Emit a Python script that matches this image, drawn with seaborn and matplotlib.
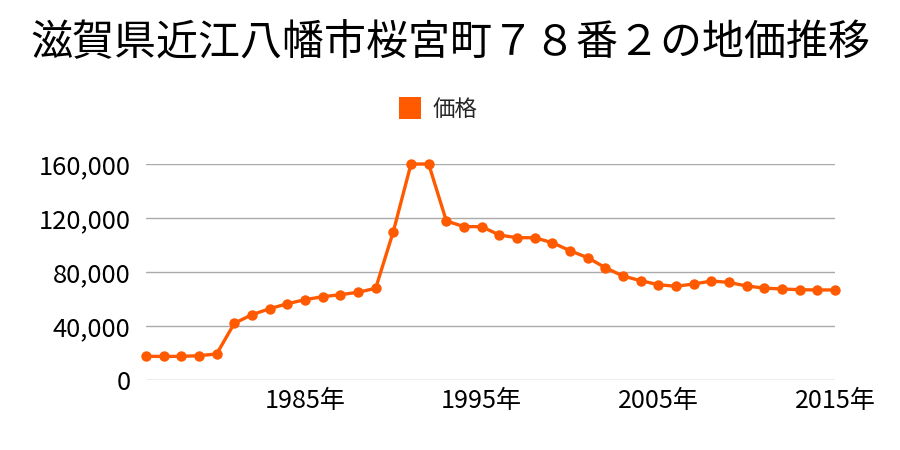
import matplotlib
matplotlib.use("Agg")
import matplotlib.pyplot as plt
import seaborn as sns
import pandas as pd
from matplotlib.ticker import FuncFormatter
from matplotlib.lines import Line2D

years = list(range(1976, 2016))
prices = [17500, 17500, 17500, 18000, 19300, 42000, 48400, 52800, 56500, 59500,
          61700, 63200, 65000, 67900, 110000, 160000, 160000, 117800, 113600, 113600,
          107400, 105400, 105400, 101700, 95800, 90600, 83200, 77000, 73600, 70600,
          69400, 71100, 73300, 72300, 69600, 68100, 67400, 66900, 66700, 66700]
title = "滋賀県近江八幡市桜宮町７８番２の地価推移"
series_name = "価格"
xtick_years = [1985, 1995, 2005, 2015]
yticks = [0, 40000, 80000, 120000, 160000]

sns.set_theme(style="white")
plt.rcParams['font.family'] = ['Noto Sans CJK JP', 'DejaVu Sans']

color = "#FF5A00"
df = pd.DataFrame({"year": years, "price": prices})

fig = plt.figure(figsize=(9, 4.5), dpi=100)
renderer = fig.canvas.get_renderer()


def fit_size(text, target_px, ref=10.0):
    t = fig.text(0, 0, text, fontsize=ref)
    w = t.get_window_extent(renderer=renderer).width
    t.remove()
    return ref * target_px / w


tick_fs = fit_size("160,000", 93)
xtick_fs = fit_size("2015年", 81)
title_fs = fit_size(title, 839)
legend_fs = fit_size(series_name, 45)

ax = fig.add_axes([146/900, 1-380/450, (835-146)/900, (380-164)/450])
sns.lineplot(data=df, x="year", y="price", ax=ax, color=color, linewidth=2.4,
             marker="o", markersize=7.5, markeredgewidth=0, clip_on=False, zorder=3)

ax.set_xlim(1976, 2015)
ax.set_ylim(0, 160000)
ax.set_yticks(yticks)
ax.yaxis.set_major_formatter(FuncFormatter(lambda v, p: f"{int(v):,}"))
ax.set_xticks(xtick_years)
ax.set_xticklabels([f"{y}年" for y in xtick_years])
ax.grid(axis="y", color="#aaaaaa", linewidth=1)
ax.set_axisbelow(True)
for s in ax.spines.values():
    s.set_visible(False)
ax.tick_params(axis="both", length=0, colors="#000000")
ax.tick_params(axis="y", labelsize=tick_fs, pad=11)
ax.tick_params(axis="x", labelsize=xtick_fs, pad=6)
ax.set_xlabel("")
ax.set_ylabel("")

fig.text(0.5, 1-43/450, title, ha="center", va="center", fontsize=title_fs, color="#000000")

handle = Line2D([], [], marker="s", linestyle="none", markersize=16.5,
                markerfacecolor=color, markeredgewidth=0)
fig.legend([handle], [series_name], loc="center", bbox_to_anchor=(0.5 - 13/900, 1-109/450),
           frameon=False, fontsize=legend_fs, handletextpad=0.4, handlelength=1.2)

fig.savefig("out.png", dpi=100)
